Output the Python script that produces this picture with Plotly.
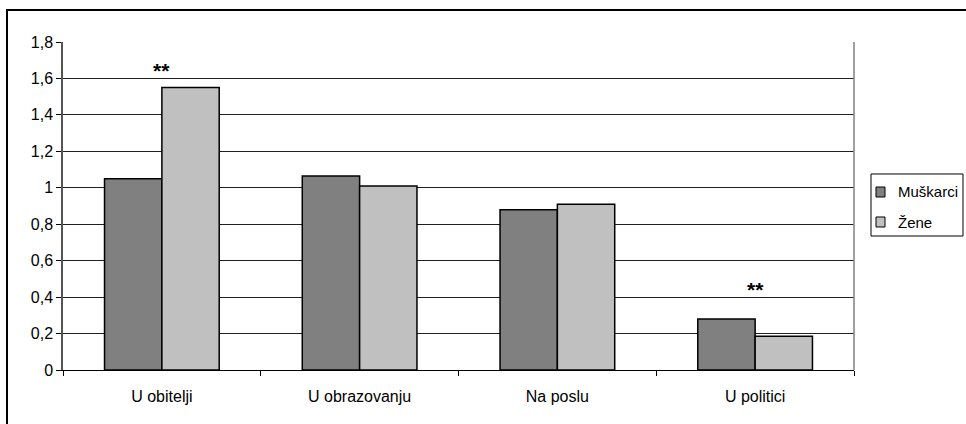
import plotly.graph_objects as go

categories = ["U obitelji", "U obrazovanju", "Na poslu", "U politici"]
muskarci = [1.05, 1.065, 0.88, 0.28]
zene = [1.55, 1.01, 0.91, 0.185]
series_names = ["Muškarci", "Žene"]
series_colors = ["#808080", "#C0C0C0"]
y_ticks = [0, 0.2, 0.4, 0.6, 0.8, 1, 1.2, 1.4, 1.6, 1.8]
y_tick_labels = ["0", "0,2", "0,4", "0,6", "0,8", "1", "1,2", "1,4", "1,6", "1,8"]
sig_categories = ["U obitelji", "U politici"]
sig_y = [1.567, 0.368]
sig_text = "**"

FONT = "Liberation Sans, Arial, sans-serif"

fig = go.Figure()
for name, vals, col in zip(series_names, [muskarci, zene], series_colors):
    fig.add_trace(go.Bar(x=categories, y=vals, name=name, showlegend=False,
                         marker=dict(color=col, line=dict(color="#000000", width=1.5))))

for c, yv in zip(sig_categories, sig_y):
    fig.add_annotation(x=c, y=yv, text="<b>" + sig_text + "</b>", showarrow=False,
                       yanchor="bottom", font=dict(size=21, color="#000", family=FONT))

# plot area frame (right side) and outer chart border
fig.add_shape(type="line", xref="paper", yref="paper", x0=1, x1=1, y0=0, y1=1,
              line=dict(color="#808080", width=1.5), layer="above")
fig.add_shape(type="rect", xref="paper", yref="paper", x0=-0.0708, x1=1.2, y0=-0.2, y1=1.0976,
              line=dict(color="#000000", width=2), layer="below")

# custom legend (compact, like the original)
fig.add_shape(type="rect", xref="paper", yref="paper", x0=1.0215, x1=1.1378, y0=0.4085, y1=0.5976,
              line=dict(color="#000000", width=1), fillcolor="white", layer="above")
legend_rows = [(0.5274, 0.5579, 0.5427), (0.4360, 0.4665, 0.4512)]
for (y0, y1, yc), name, col in zip(legend_rows, series_names, series_colors):
    fig.add_shape(type="rect", xref="paper", yref="paper", x0=1.0278, x1=1.0392, y0=y0, y1=y1,
                  line=dict(color="#000000", width=1), fillcolor=col, layer="above")
    fig.add_annotation(xref="paper", yref="paper", x=1.0531, y=yc, text=name, showarrow=False,
                       xanchor="left", yanchor="middle", font=dict(size=15, family=FONT, color="#000"))

fig.update_layout(
    width=966, height=424,
    margin=dict(l=63, r=112, t=42, b=54, autoexpand=False),
    paper_bgcolor="white", plot_bgcolor="white",
    barmode="group", bargap=0.42, bargroupgap=0,
    font=dict(family=FONT, size=16, color="#000"),
    showlegend=False,
    xaxis=dict(showgrid=False, showline=True, linecolor="#000", linewidth=1,
               ticks="outside", ticklen=5, tickcolor="#000", tickson="boundaries",
               ticklabelstandoff=12, tickfont=dict(size=16)),
    yaxis=dict(range=[0, 1.8], tickvals=y_ticks, ticktext=y_tick_labels,
               showgrid=True, gridcolor="#202020", gridwidth=1,
               showline=True, linecolor="#555555", linewidth=1.5,
               ticks="outside", ticklen=5, tickcolor="#000",
               zeroline=True, zerolinecolor="#000", zerolinewidth=1,
               tickfont=dict(size=16)),
)

fig.write_html("out.html", config={"displayModeBar": False},
               post_script="document.body.style.margin='0';document.body.style.overflow='hidden';")
